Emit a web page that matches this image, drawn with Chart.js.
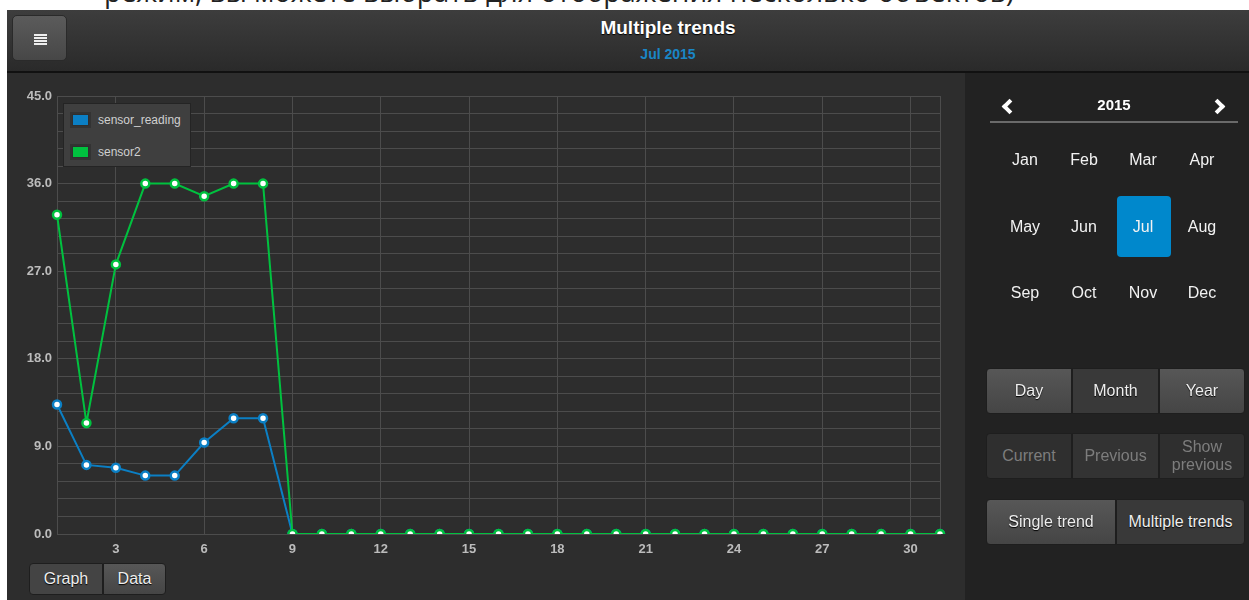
<!DOCTYPE html>
<html>
<head>
<meta charset="utf-8">
<script src="https://cdn.jsdelivr.net/npm/chart.js@4.4.1/dist/chart.umd.min.js"></script>
<style>
  html, body { margin:0; padding:0; width:1249px; height:600px; overflow:hidden; background:#fff; font-family:"Liberation Sans", Arial, sans-serif; }
  #topText { position:absolute; left:104px; top:-22px; font-family:"Open Sans", sans-serif; font-size:27px; line-height:27px; color:#222; white-space:nowrap; transform-origin:0 0; }
  #app { position:absolute; left:7px; top:10px; width:1242px; height:590px; background:#2d2d2d; overflow:hidden; }
  #header { position:absolute; left:0; top:0; width:1242px; height:61px; background:linear-gradient(#3d3d3d, #2a2a2a); border-bottom:2px solid #111; }
  #menuBtn { position:absolute; left:5px; top:5px; width:55px; height:46px; border-radius:5px; background:linear-gradient(#5b5b5b, #474747); border:1px solid #2a2a2a; box-sizing:border-box; }
  #menuBtn i { position:absolute; left:21px; width:13px; height:2px; background:#eee; }
  #title { position:absolute; left:561px; width:200px; top:7px; text-align:center; color:#fff; font-weight:bold; font-size:19px; text-shadow:0 1px 1px #000; }
  #subtitle { position:absolute; left:561px; width:200px; top:36px; text-align:center; color:#1a86c6; font-weight:bold; font-size:14px; }
  #right { position:absolute; left:958px; top:63px; width:284px; height:527px; background:#222; }
  #rin { position:absolute; left:-7px; top:-10px; width:300px; height:540px; }
  canvas#c { position:absolute; left:0; top:62px; }
  #legend { position:absolute; left:56px; top:93px; width:128px; height:64px; background:#3f3f3f; border:1px solid #242424; box-sizing:border-box; }
  .li { position:absolute; left:6px; height:16px; }
  .sw { position:absolute; left:0; top:0; width:21px; height:16px; background:#2f2f2f; box-sizing:border-box; border:2px solid #333; }
  .sw b { position:absolute; left:1px; top:1px; right:1px; bottom:1px; }
  .lt { position:absolute; left:28px; top:0px; font-size:12px; line-height:16px; color:#d0d0d0; white-space:nowrap; }
  .btn { position:absolute; box-sizing:border-box; color:#eee; font-size:16px; text-align:center; border:1px solid #1e1e1e; text-shadow:0 1px 1px #000; }
  .lg { background:linear-gradient(#575757, #454545); }
  .dk { background:#393939; }
  .dis { background:#2f2f2f; color:#7d7d7d; text-shadow:none; }
  .mon { position:absolute; width:54px; text-align:center; color:#f2f2f2; font-size:16px; }
  .chev { position:absolute; width:7px; height:7px; border-left:4px solid #fff; border-top:4px solid #fff; }
</style>
</head>
<body>
<div id="topText">режим, вы можете выбрать для отображения несколько объектов)</div>
<div id="app">
  <div id="header">
    <div id="menuBtn"><i style="top:18px"></i><i style="top:21px"></i><i style="top:24px"></i><i style="top:27px"></i></div>
    <div id="title">Multiple trends</div>
    <div id="subtitle">Jul 2015</div>
  </div>
  <canvas id="c" width="958" height="490"></canvas>
  <div id="legend"></div>
  <div class="btn dk" style="left:22px;top:553px;width:74px;height:32px;line-height:30px;border-radius:4px 0 0 4px;background:#444;">Graph</div>
  <div class="btn lg" style="left:96px;top:553px;width:63px;height:32px;line-height:30px;border-radius:0 4px 4px 0;">Data</div>
  <div id="right"><div id="rin"></div></div>
</div>
<script>
const days = [1,2,3,4,5,6,7,8,9,10,11,12,13,14,15,16,17,18,19,20,21,22,23,24,25,26,27,28,29,30,31];
const sensorReading = [13.3,7.1,6.8,6.0,6.0,9.4,11.9,11.9,0,0,0,0,0,0,0,0,0,0,0,0,0,0,0,0,0,0,0,0,0,0,0];
const sensor2 = [32.8,11.4,27.7,36.0,36.0,34.7,36.0,36.0,0,0,0,0,0,0,0,0,0,0,0,0,0,0,0,0,0,0,0,0,0,0,0];
const seriesNames = ["sensor_reading","sensor2"];
const seriesColors = ["#0b7fc4","#00c13f"];
const yMin = 0, yMax = 45, yStep = 1.8, yLabelEvery = 9;
const xLabelEvery = 3;
const months = ["Jan","Feb","Mar","Apr","May","Jun","Jul","Aug","Sep","Oct","Nov","Dec"];
const selectedMonth = "Jul";
const yearLabel = "2015";

(function(){
  const t = document.getElementById('topText');
  const w = t.getBoundingClientRect().width;
  t.style.transform = 'scaleX(' + (910 / w) + ')';
})();

const gridCol = '#4c4c4c';
const tickFont = { family: '"Liberation Sans", Arial, sans-serif', size: 13, weight: 'bold' };

const chart = new Chart(document.getElementById('c'), {
  type: 'line',
  data: {
    labels: days,
    datasets: [
      { label: seriesNames[0], data: sensorReading, borderColor: seriesColors[0], backgroundColor: seriesColors[0],
        borderWidth: 2, pointRadius: 4, pointBorderWidth: 2.5, pointBackgroundColor: '#fff', pointBorderColor: seriesColors[0],
        tension: 0, order: 1 },
      { label: seriesNames[1], data: sensor2, borderColor: seriesColors[1], backgroundColor: seriesColors[1],
        borderWidth: 2, pointRadius: 4, pointBorderWidth: 2.5, pointBackgroundColor: '#fff', pointBorderColor: seriesColors[1],
        tension: 0, order: 0 }
    ]
  },
  options: {
    responsive: false,
    animation: false,
    events: [],
    layout: { padding: { top: 24, right: 25, left: 0, bottom: 0 } },
    plugins: { legend: { display: false }, tooltip: { enabled: false } },
    scales: {
      x: {
        type: 'category',
        offset: false,
        border: { color: gridCol, width: 1 },
        grid: {
          drawTicks: false,
          color: (ctx) => {
            const i = ctx.index;
            return (i === 0 || i === days.length - 1 || days[i] % xLabelEvery === 0) ? gridCol : 'rgba(0,0,0,0)';
          }
        },
        ticks: {
          autoSkip: false, maxRotation: 0, padding: 8, color: '#bcbcbc', font: tickFont,
          callback: function(v, i) { return days[i] % xLabelEvery === 0 ? String(days[i]) : ''; }
        },
        afterFit: (s) => { s.height = 28; }
      },
      y: {
        min: yMin, max: yMax,
        border: { color: gridCol, width: 1 },
        grid: { drawTicks: false, color: gridCol },
        ticks: {
          stepSize: yStep, autoSkip: false, padding: 5, color: '#bcbcbc', font: tickFont,
          callback: function(v) {
            const r = v / yLabelEvery;
            return Math.abs(r - Math.round(r)) < 1e-6 ? Number(v).toFixed(1) : '';
          }
        },
        afterFit: (s) => { s.width = 50; }
      }
    }
  }
});

(function(){
  const lg = document.getElementById('legend');
  chart.data.datasets.forEach((ds, i) => {
    const d = document.createElement('div');
    d.className = 'li';
    d.style.top = (8 + i * 32) + 'px';
    d.innerHTML = '<div class="sw"><b style="background:' + ds.borderColor + '"></b></div><div class="lt">' + ds.label + '</div>';
    lg.appendChild(d);
  });
})();

(function(){
  const r = document.getElementById('rin');
  let h = '';
  h += '<div class="chev" style="left:46px;top:38px;transform:rotate(-45deg)"></div>';
  h += '<div class="chev" style="left:254px;top:38px;transform:rotate(135deg)"></div>';
  h += '<div style="position:absolute;left:106px;width:100px;top:33px;text-align:center;color:#fff;font-weight:bold;font-size:15px;">' + yearLabel + '</div>';
  h += '<div style="position:absolute;left:32px;top:58px;width:248px;height:2px;background:#6a6a6a;"></div>';
  const cx = [67, 126, 185, 244], cy = [98, 165, 231];
  months.forEach((m, i) => {
    const col = i % 4, row = Math.floor(i / 4);
    if (m === selectedMonth) {
      h += '<div style="position:absolute;left:' + (cx[col]-26) + 'px;top:' + (cy[row]-32) + 'px;width:54px;height:61px;border-radius:4px;background:#0088cc;"></div>';
    }
    h += '<div class="mon" style="left:' + (cx[col]-27) + 'px;top:' + (cy[row]-10) + 'px;">' + m + '</div>';
  });
  h += '<div class="btn lg" style="left:28px;top:305px;width:86px;height:46px;line-height:44px;border-radius:4px 0 0 4px;">Day</div>';
  h += '<div class="btn dk" style="left:114px;top:305px;width:87px;height:46px;line-height:44px;">Month</div>';
  h += '<div class="btn lg" style="left:201px;top:305px;width:86px;height:46px;line-height:44px;border-radius:0 4px 4px 0;">Year</div>';
  h += '<div class="btn dis" style="left:28px;top:370px;width:86px;height:46px;line-height:44px;border-radius:4px 0 0 4px;">Current</div>';
  h += '<div class="btn dis" style="left:114px;top:370px;width:87px;height:46px;line-height:44px;background:#333;">Previous</div>';
  h += '<div class="btn dis" style="left:201px;top:370px;width:86px;height:46px;line-height:18px;padding-top:4px;border-radius:0 4px 4px 0;">Show<br>previous</div>';
  h += '<div class="btn lg" style="left:28px;top:436px;width:130px;height:46px;line-height:44px;border-radius:4px 0 0 4px;">Single trend</div>';
  h += '<div class="btn dk" style="left:158px;top:436px;width:129px;height:46px;line-height:44px;border-radius:0 4px 4px 0;">Multiple trends</div>';
  r.innerHTML = h;
})();
</script>
</body>
</html>
